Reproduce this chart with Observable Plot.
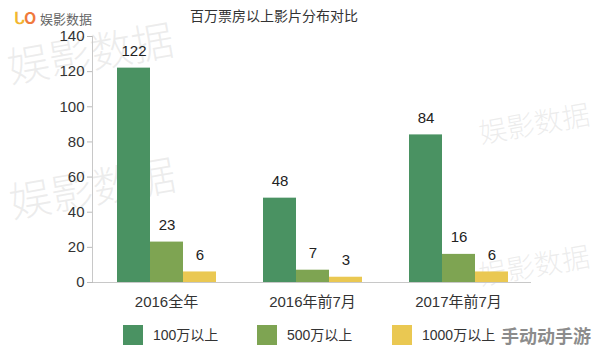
<!DOCTYPE html>
<html><head><meta charset="utf-8">
<script src="https://cdn.jsdelivr.net/npm/d3@7"></script>
<script src="https://cdn.jsdelivr.net/npm/@observablehq/plot@0.6"></script>
<style>
body{margin:0;background:#fff;font-family:"Liberation Sans","Noto Sans CJK SC",sans-serif;}
#wrap{position:relative;width:594px;height:352px;overflow:hidden;}
.wm{position:absolute;color:rgba(190,190,190,0.28);font-family:"Noto Sans CJK SC";font-weight:300;white-space:nowrap;transform:rotate(-10deg);pointer-events:none;line-height:1;}
</style></head><body>
<div id="wrap"></div>
<script>
const categoryLabels = ["2016全年", "2016年前7月", "2017年前7月"];
const series = ["100万以上", "500万以上", "1000万以上"];
const values100 = [122, 48, 84];
const values500 = [23, 7, 16];
const values1000 = [6, 3, 6];
const yTicks = [0, 20, 40, 60, 80, 100, 120, 140];
const colors = ["#4a9262", "#7ea452", "#eac852"];
const title = "百万票房以上影片分布对比";

const data = [];
categoryLabels.forEach((c, i) => {
  data.push({cat: c, s: series[0], v: values100[i]});
  data.push({cat: c, s: series[1], v: values500[i]});
  data.push({cat: c, s: series[2], v: values1000[i]});
});

const wrap = document.getElementById("wrap");

// watermarks (kept inside the frame)
const wms = [
  {t:"娱影数据", x:6, y:30, s:42},
  {t:"娱影数据", x:8, y:165, s:42},
  {t:"娱影数据", x:478, y:108, s:28},
  {t:"娱影数据", x:478, y:250, s:28}
];
for (const w of wms) {
  const d = document.createElement("div");
  d.className = "wm";
  d.textContent = w.t;
  d.style.left = w.x + "px"; d.style.top = w.y + "px"; d.style.fontSize = w.s + "px";
  wrap.appendChild(d);
}

const plot = Plot.plot({
  width: 594,
  height: 352,
  marginLeft: 92,
  marginRight: 62,
  marginTop: 36,
  marginBottom: 70,
  style: {background: "transparent", fontFamily: "Liberation Sans, Noto Sans CJK SC, sans-serif", fontSize: "14px", color: "#333"},
  fx: {domain: categoryLabels, padding: 0, label: null},
  x: {domain: series, paddingInner: 0, paddingOuter: 0.71, axis: null},
  y: {domain: [0, 140], label: null},
  color: {domain: series, range: colors},
  marks: [
    Plot.axisY({ticks: yTicks, tickSize: 6, tickPadding: 3, stroke: "#bbb", fill: "#333", fontSize: 15, label: null}),
    Plot.axisFx({anchor: "bottom", tickSize: 0, tickPadding: 14, fontSize: 15, fill: "#333", label: null}),
    Plot.barY(data, {fx: "cat", x: "s", y: "v", fill: "s", insetLeft: 0, insetRight: 0}),
    Plot.ruleY([0], {stroke: "#c8c8c8"}),
    Plot.text(data, {fx: "cat", x: "s", y: "v", text: d => String(d.v), dy: -17, fontSize: 15, fill: "#222"})
  ]
});
plot.style.position = "absolute";
plot.style.left = "0px";
plot.style.top = "0px";
wrap.appendChild(plot);

// y-axis line
const yl = document.createElement("div");
Object.assign(yl.style, {position:"absolute", left:"92px", top:"36px", width:"1px", height:"246px", background:"#c8c8c8"});
wrap.appendChild(yl);

// title
const t = document.createElement("div");
t.textContent = title;
Object.assign(t.style, {position:"absolute", left:"190px", top:"5px", fontSize:"14px", color:"#333", fontFamily:"Noto Sans CJK SC"});
wrap.appendChild(t);

// logo
const logo = document.createElement("div");
logo.innerHTML = '<span style="color:#f2b630;font-weight:bold;font-size:17px;letter-spacing:-1px">ᒐ</span><span style="color:#f07a3c;font-weight:bold;font-size:16px">O</span> <span style="color:#666;font-size:13px">娱影数据</span>';
Object.assign(logo.style, {position:"absolute", left:"14px", top:"4px", fontFamily:"Noto Sans CJK SC", whiteSpace:"nowrap"});
wrap.appendChild(logo);

// legend
const legX = [123, 257, 392];
series.forEach((s, i) => {
  const sw = document.createElement("div");
  Object.assign(sw.style, {position:"absolute", left: legX[i] + "px", top:"325px", width:"20px", height:"20px", background: colors[i]});
  wrap.appendChild(sw);
  const lb = document.createElement("div");
  lb.textContent = s;
  Object.assign(lb.style, {position:"absolute", left: (legX[i] + 30) + "px", top:"325px", fontSize:"14px", lineHeight:"20px", color:"#333"});
  wrap.appendChild(lb);
});

// site watermark
const sm = document.createElement("div");
sm.textContent = "手动动手游";
Object.assign(sm.style, {position:"absolute", left:"501px", top:"320px", fontSize:"18px", fontWeight:"bold", color:"#8c8c8c", fontFamily:"Noto Sans CJK SC", lineHeight:"30px", whiteSpace:"nowrap"});
wrap.appendChild(sm);
</script>
</body></html>
